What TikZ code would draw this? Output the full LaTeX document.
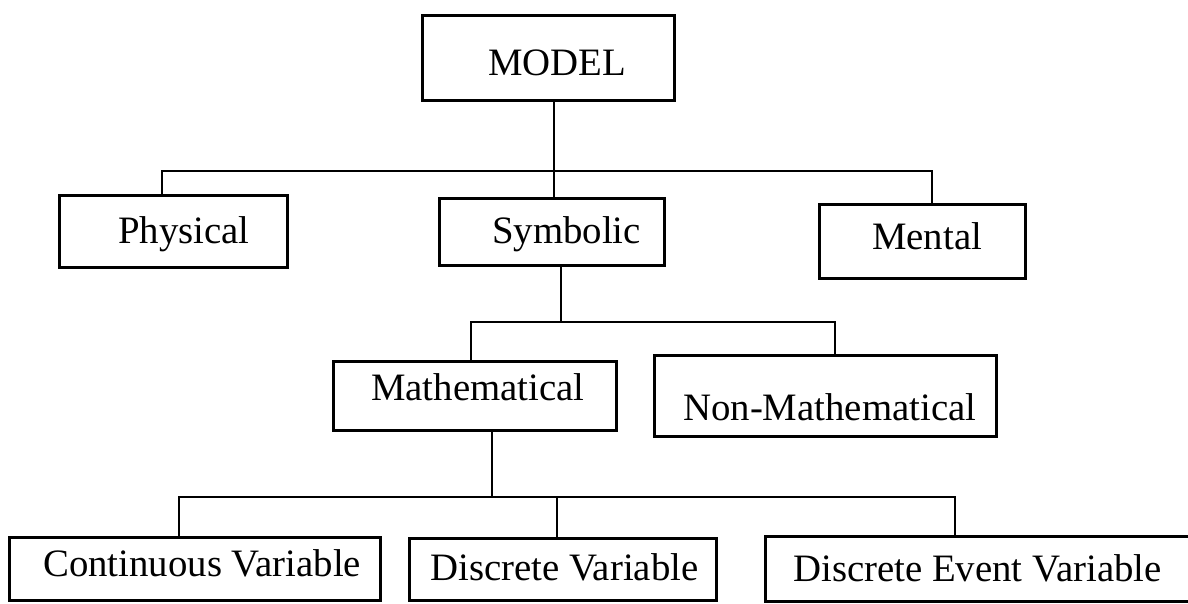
\documentclass[tikz,border=0pt]{standalone}
\usepackage{fontspec}
\setmainfont{Liberation Serif}
\begin{document}
\begin{tikzpicture}[x=1pt, y=-1pt,
  box/.style={draw, line width=2.8pt, rectangle, inner sep=0pt},
  lbl/.style={anchor=base west, inner sep=0pt, font=\fontsize{38.8}{40}\selectfont},
  wire/.style={line width=2.4pt}]
\useasboundingbox (0,0) rectangle (1188,604);
\fill[white] (0,0) rectangle (1188,604);
\clip (0,0) rectangle (1188,604);

% boxes
\node[box, minimum width=252pt, minimum height=85pt] (model) at (548.5,58) {};
\node[box, minimum width=228pt, minimum height=72pt] (phys) at (173.5,231.5) {};
\node[box, minimum width=225pt, minimum height=67pt] (sym) at (552,232) {};
\node[box, minimum width=206pt, minimum height=74pt] (ment) at (922.5,241.5) {};
\node[box, minimum width=283pt, minimum height=69pt] (math) at (475,396) {};
\node[box, minimum width=342pt, minimum height=81pt] (nonmath) at (825.5,396) {};
\node[box, minimum width=371pt, minimum height=63pt] (cont) at (195,569) {};
\node[box, minimum width=307pt, minimum height=62pt] (disc) at (563,569.5) {};
\node[box, minimum width=520pt, minimum height=65pt] (dev) at (1025.5,569) {};

% labels
\node[lbl] (tmodel) at (488,76) {MODEL};
\node[lbl] (tphys) at (118,243) {Physical};
\node[lbl] (tsym) at (492,243) {Symbolic};
\node[lbl] (tment) at (872,249) {Mental};
\node[lbl] (tmath) at (371,400) {Mathematical};
\node[lbl] (tnonmath) at (683,420) {Non-Mathematical};
\node[lbl] (tcont) at (43,576) {Continuous Variable};
\node[lbl] (tdisc) at (430,580) {Discrete Variable};
\node[lbl] (tdev) at (793,581) {Discrete Event Variable};

% bus junctions
\coordinate (a0) at (554,171);
\coordinate (al) at (162,171);
\coordinate (ar) at (932,171);
\coordinate (b0) at (561,322);
\coordinate (bl) at (471,322);
\coordinate (br) at (835,322);
\coordinate (c0) at (492,497);
\coordinate (cl) at (179,497);
\coordinate (cm) at (557,497);
\coordinate (cr) at (955,497);

% first level
\draw[wire] (a0 |- model.south) -- (a0 |- sym.north);
\draw[wire] (al |- phys.north) -- (al) -- (ar) -- (ar |- ment.north);
% second level
\draw[wire] (b0 |- sym.south) -- (b0);
\draw[wire] (bl |- math.north) -- (bl) -- (br) -- (br |- nonmath.north);
% third level
\draw[wire] (c0 |- math.south) -- (c0);
\draw[wire] (cl |- cont.north) -- (cl) -- (cr) -- (cr |- dev.north);
\draw[wire] (cm) -- (cm |- disc.north);
\end{tikzpicture}
\end{document}
